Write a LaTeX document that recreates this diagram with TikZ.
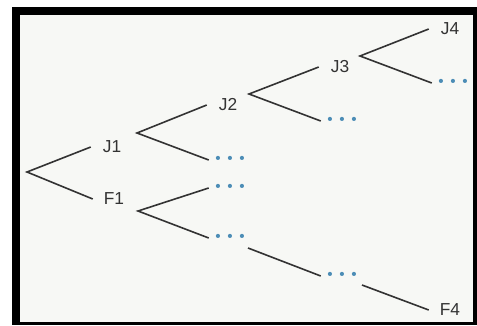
\documentclass[tikz,border=0pt]{standalone}
\usepackage{fontspec}
\setmainfont{Liberation Sans}
\usepackage{xcolor}
\usepackage{tikz}
\usetikzlibrary{calc}

\definecolor{inkgray}{HTML}{333333}
\definecolor{dotblue}{HTML}{4C8DB6}
\definecolor{paper}{HTML}{F7F8F5}

\newcommand{\dts}{\textbullet\hspace{5pt}\textbullet\hspace{5pt}\textbullet}

\begin{document}
\begin{tikzpicture}[
  x=0.75pt, y=-0.75pt,
  every node/.style={font=\fontsize{13}{15}\selectfont},
  lbl/.style={inner sep=0pt, minimum width=31.5pt, minimum height=12pt, text=inkgray},
  more/.style={lbl, text=dotblue, font=\fontsize{11.5}{13}\selectfont},
  edge/.style={draw=inkgray, line width=1.2pt}
]
\useasboundingbox (0,0) rectangle (477,325);

% ---------- Frame ----------
\fill[white] (0,0) rectangle (477,325);
\fill[black] (12,7) rectangle (477,325);
\fill[paper] (20,15) rectangle (473,322);

% ---------- Tree labels ----------
\coordinate (root) at (27,172);
\node[lbl] (J1) at (112,147) {J1};
\node[lbl] (F1) at (114,199) {F1};

\node[lbl]  (J2) at (228,105) {J2};
\node[more] (D1) at (230,160) {\dts};
\node[more] (D2) at (230,188) {\dts};
\node[more] (D3) at (230,238) {\dts};

\node[lbl]  (J3) at (340,67)  {J3};
\node[more] (D4) at (342,121) {\dts};
\node[more] (D5) at (342,276) {\dts};

\node[lbl]  (J4) at (450,29)  {J4};
\node[more] (D6) at (453,83)  {\dts};
\node[lbl]  (F4) at (450,310) {F4};

% ---------- Fork points ----------
\coordinate (J1f) at ($(J1)+(25,-14)$);
\coordinate (F1f) at ($(F1)+(24,12)$);
\coordinate (J2f) at ($(J2)+(21,-11)$);
\coordinate (J3f) at ($(J3)+(20,-11)$);
\coordinate (D3f) at ($(D3)+(18,10)$);
\coordinate (D5f) at ($(D5)+(20,9)$);

% ---------- Branches ----------
\draw[edge] (J1.west) -- (root) -- (F1.west);
\draw[edge] (J2.west) -- (J1f) -- (D1.west);
\draw[edge] (D2.west) -- (F1f) -- (D3.west);
\draw[edge] (J3.west) -- (J2f) -- (D4.west);
\draw[edge] (J4.west) -- (J3f) -- (D6.west);
\draw[edge] (D3f) -- (D5.west);
\draw[edge] (D5f) -- (F4.west);

\end{tikzpicture}
\end{document}
